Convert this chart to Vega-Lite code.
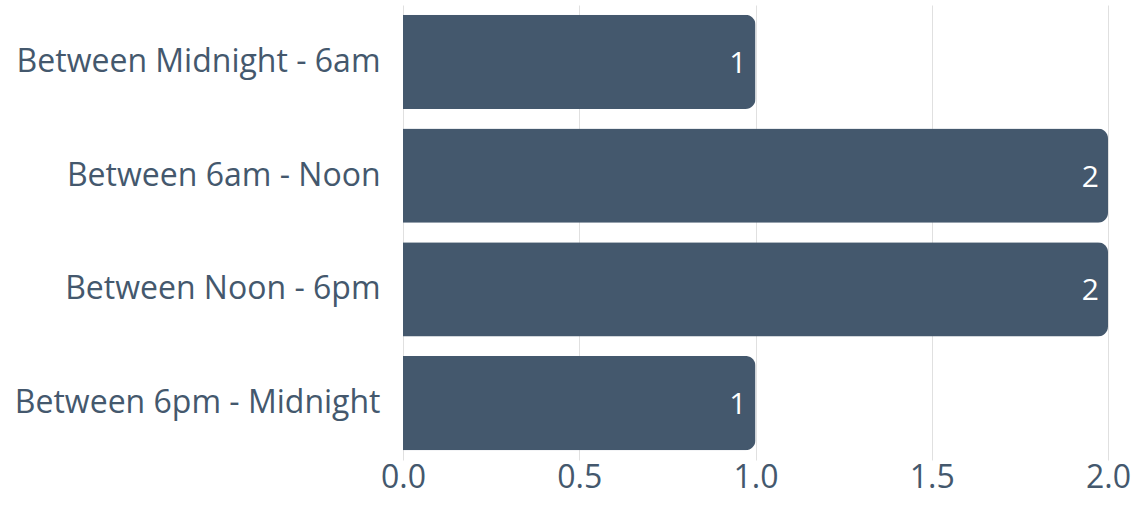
{
  "$schema": "https://vega.github.io/schema/vega-lite/v6.json",
  "width": 705,
  "height": 455,
  "autosize": {"type": "none"},
  "padding": {"left": 403, "top": 5, "right": 35, "bottom": 48},
  "background": "white",
  "config": {"view": {"stroke": null}, "font": "Open Sans"},
  "data": {"values": [
    {"period": "Between Midnight - 6am", "count": 1},
    {"period": "Between 6am - Noon", "count": 2},
    {"period": "Between Noon - 6pm", "count": 2},
    {"period": "Between 6pm - Midnight", "count": 1}
  ]},
  "encoding": {
    "y": {"field": "period", "type": "nominal", "sort": null,
      "scale": {"paddingInner": 0.17, "paddingOuter": 0.085},
      "axis": {"title": null, "domain": false, "ticks": false, "labelFontSize": 32, "labelColor": "#44586d", "labelPadding": 23, "labelLimit": 500, "labelFont": "Open Sans"}},
    "x": {"field": "count", "type": "quantitative",
      "scale": {"domain": [0, 2], "nice": false},
      "axis": {"title": null, "domain": false, "ticks": false, "values": [0, 0.5, 1, 1.5, 2], "format": ".1f", "labelFontSize": 32, "labelColor": "#44586d", "labelPadding": 2, "gridColor": "#e0e0e0", "labelFont": "Open Sans", "labelFlush": false}}
  },
  "layer": [
    {"mark": {"type": "bar", "color": "#44586d", "cornerRadiusEnd": 10}},
    {"mark": {"type": "text", "align": "right", "baseline": "middle", "dx": -9, "dy": 2, "color": "white", "fontSize": 30, "font": "Open Sans"},
     "encoding": {"text": {"field": "count", "type": "quantitative"}}}
  ]
}
